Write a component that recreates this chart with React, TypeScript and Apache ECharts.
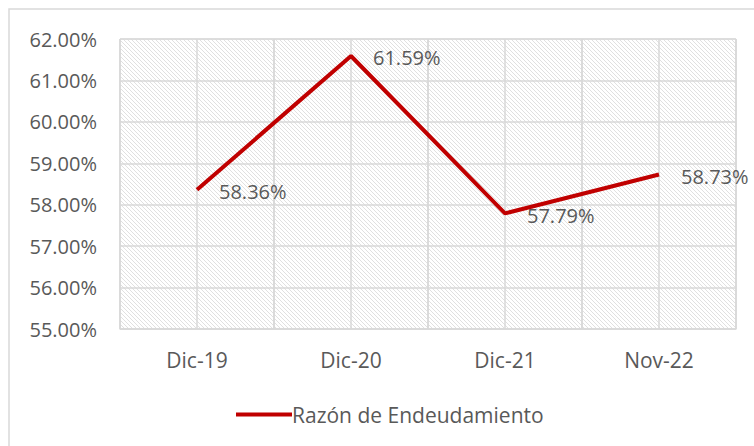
import React, { useEffect, useRef } from "react";
import * as echarts from "echarts";

const categories = ["Dic-19", "Dic-20", "Dic-21", "Nov-22"];
const razonValues = [58.36, 61.59, 57.79, 58.73];
const seriesName = "Razón de Endeudamiento";
const yMin = 55;
const yMax = 62;

const W = 754;
const H = 446;
const GRID_LEFT = 120;
const GRID_TOP = 39;
const GRID_RIGHT = 18;
const GRID_BOTTOM = 117;
const FONT = "'Open Sans', 'Noto Sans', sans-serif";
const TEXT = "#595959";
const LINE = "#C00000";
const GRIDC = "#d9d9d9";

function makeHatch(): HTMLCanvasElement {
  const c = document.createElement("canvas");
  c.width = 8;
  c.height = 8;
  const ctx = c.getContext("2d")!;
  ctx.fillStyle = "#ffffff";
  ctx.fillRect(0, 0, 8, 8);
  ctx.fillStyle = "#e0e0e0";
  for (let i = 0; i < 8; i++) {
    ctx.fillRect(i, i, 1, 1);
    ctx.fillRect((i + 4) % 8, i, 1, 1);
  }
  return c;
}

export default function App() {
  const ref = useRef<HTMLDivElement>(null);
  useEffect(() => {
    if (!ref.current) return;
    const chart = echarts.init(ref.current, null, { renderer: "svg" });
    const gw = W - GRID_LEFT - GRID_RIGHT;
    const gh = H - GRID_TOP - GRID_BOTTOM;
    chart.setOption({
      animation: false,
      backgroundColor: "#ffffff",
      textStyle: { fontFamily: FONT },
      graphic: [
        {
          type: "rect",
          z: -10,
          silent: true,
          shape: { x: 9, y: 9, width: 900, height: 600 },
          style: { fill: "none", stroke: GRIDC, lineWidth: 1.5 },
        },
        {
          type: "rect",
          z: -10,
          silent: true,
          shape: { x: GRID_LEFT, y: GRID_TOP, width: gw, height: gh },
          style: {
            fill: { image: makeHatch(), repeat: "repeat" } as any,
            stroke: GRIDC,
            lineWidth: 1,
          },
        },
      ],
      grid: {
        left: GRID_LEFT,
        top: GRID_TOP,
        right: GRID_RIGHT,
        bottom: GRID_BOTTOM,
        containLabel: false,
      },
      legend: {
        show: true,
        bottom: 16,
        left: 231,
        itemWidth: 56,
        itemHeight: 4,
        itemGap: 10,
        textStyle: { color: TEXT, fontSize: 21, fontFamily: FONT, padding: [0, 0, 0, -5] },
        data: [{ name: seriesName, icon: "path://M0,0 L56,0 L56,4 L0,4 Z" }],
      },
      xAxis: [
        {
          type: "category",
          data: categories,
          boundaryGap: true,
          axisLine: { show: true, lineStyle: { color: GRIDC, width: 1.5 } },
          axisTick: { show: false },
          splitLine: { show: true, interval: 0, lineStyle: { color: GRIDC, width: 1.5 } },
          axisLabel: { color: TEXT, fontSize: 21, margin: 20, fontFamily: FONT },
        },
        {
          type: "value",
          min: 0,
          max: 8,
          interval: 1,
          position: "top",
          axisLine: { show: false },
          axisTick: { show: false },
          axisLabel: { show: false },
          splitLine: { show: true, lineStyle: { color: GRIDC, width: 1.5 } },
        },
      ],
      yAxis: {
        type: "value",
        min: yMin,
        max: yMax,
        interval: 1,
        axisLine: { show: false },
        axisTick: { show: false },
        splitLine: { show: true, lineStyle: { color: GRIDC, width: 1.5 } },
        axisLabel: {
          color: TEXT,
          fontSize: 20,
          margin: 23,
          fontFamily: FONT,
          formatter: (v: number) => v.toFixed(2) + "%",
        },
      },
      series: [
        {
          name: seriesName,
          type: "line",
          xAxisIndex: 0,
          data: razonValues,
          symbol: "circle",
          symbolSize: 0,
          showSymbol: true,
          lineStyle: { color: LINE, width: 4 },
          itemStyle: { color: LINE },
          label: {
            show: true,
            position: "right",
            distance: 22,
            offset: [0, 2],
            color: TEXT,
            fontSize: 20,
            fontFamily: FONT,
            formatter: (p: any) => p.value.toFixed(2) + "%",
          },
        },
      ],
    });
    return () => chart.dispose();
  }, []);
  return (
    <div
      ref={ref}
      style={{ position: "fixed", left: 0, top: 0, width: W, height: H, background: "#fff" }}
    />
  );
}
